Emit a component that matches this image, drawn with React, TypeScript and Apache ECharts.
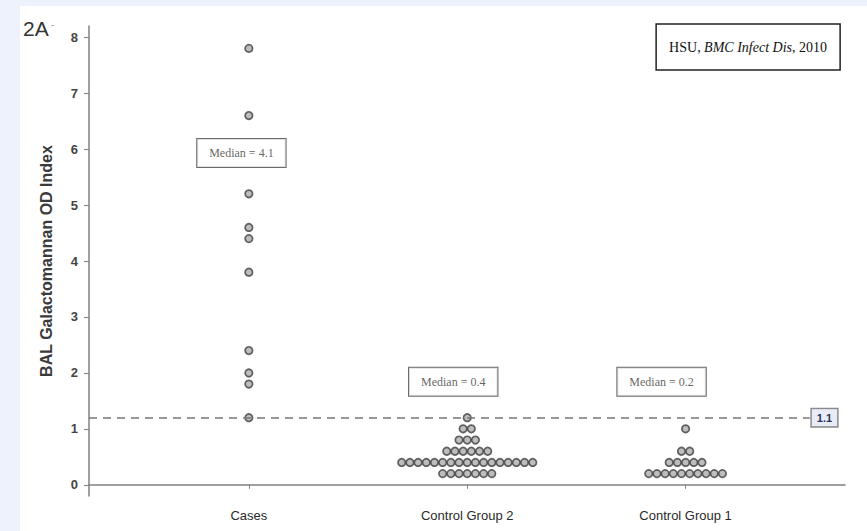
import React, { useEffect, useRef } from "react";
import * as echarts from "echarts";

const categories = ["Cases", "Control Group 2", "Control Group 1"];
const casesValues = [7.8, 6.6, 5.2, 4.6, 4.4, 3.8, 2.4, 2.0, 1.8, 1.2];
const control2Values = [
  1.2,
  1.0, 1.0,
  0.8, 0.8, 0.8,
  0.6, 0.6, 0.6, 0.6, 0.6, 0.6,
  0.4, 0.4, 0.4, 0.4, 0.4, 0.4, 0.4, 0.4, 0.4, 0.4, 0.4, 0.4, 0.4, 0.4, 0.4, 0.4, 0.4,
  0.2, 0.2, 0.2, 0.2, 0.2, 0.2, 0.2,
];
const control1Values = [
  1.0,
  0.6, 0.6,
  0.4, 0.4, 0.4, 0.4, 0.4,
  0.2, 0.2, 0.2, 0.2, 0.2, 0.2, 0.2, 0.2, 0.2, 0.2,
];
const medianTexts = ["Median = 4.1", "Median = 0.4", "Median = 0.2"];
const medianLabelX = [0.966, 1.936, 2.89];
const medianLabelY = [5.93, 1.84, 1.84];
const yTicks = [0, 1, 2, 3, 4, 5, 6, 7, 8];
const thresholdLevel = 1.2;
const thresholdLabel = "1.1";
const panelLabel = "2A";
const yAxisTitle = "BAL Galactomannan OD Index";
const citation = "HSU, {i|BMC Infect Dis}, 2010";

const X_MIN = 0.268;
const X_MAX = 3.73;
const STEP = 0.0375;

function swarm(values: number[], center: number, step: number) {
  const counts = new Map<number, number>();
  values.forEach((v) => counts.set(v, (counts.get(v) || 0) + 1));
  const out: number[][] = [];
  counts.forEach((n, v) => {
    for (let i = 0; i < n; i++) out.push([center + (i - (n - 1) / 2) * step, v]);
  });
  return out;
}

export default function App() {
  const ref = useRef<HTMLDivElement>(null);
  useEffect(() => {
    document.body.style.margin = "0";
    const chart = echarts.init(ref.current!, undefined, { renderer: "svg" });
    const dotStyle = {
      color: "#acacac",
      borderColor: "#3f3f3f",
      borderWidth: 1.7,
    };
    const groups = [casesValues, control2Values, control1Values];
    const dotSeries = groups.map((vals, gi) => ({
      type: "scatter",
      name: categories[gi],
      data: swarm(vals, gi + 1, STEP),
      symbol: "circle",
      symbolSize: 7.5,
      itemStyle: dotStyle,
      z: 3,
    }));
    chart.setOption({
      animation: false,
      title: {
        text: citation,
        right: 27,
        top: 18,
        padding: [16, 13],
        borderColor: "#222",
        borderWidth: 1.5,
        backgroundColor: "#fff",
        textStyle: {
          fontFamily: "Liberation Serif",
          fontSize: 14,
          fontWeight: "normal",
          color: "#111",
          rich: {
            i: { fontFamily: "Liberation Serif", fontSize: 14, fontStyle: "italic", color: "#111" },
          },
        },
      },
      graphic: [
        {
          type: "text",
          left: 3,
          top: 12,
          style: {
            text: panelLabel,
            fontFamily: "Liberation Sans",
            fontSize: 21,
            fill: "#333",
          },
        },
        {
          type: "text",
          left: 31,
          top: 13,
          style: {
            text: "-",
            fontFamily: "Liberation Sans",
            fontSize: 10,
            fill: "#999",
          },
        },
      ],
      grid: { left: 69, right: 22, top: 20, bottom: 35 },
      xAxis: {
        type: "value",
        min: X_MIN,
        max: X_MAX,
        splitLine: { show: false },
        axisLine: { lineStyle: { color: "#808080", width: 1.5 } },
        axisTick: { customValues: [1, 2, 3], length: 4, lineStyle: { color: "#808080" } },
        axisLabel: {
          customValues: [1, 2, 3],
          formatter: (v: number) => categories[Math.round(v) - 1] || "",
          fontFamily: "Liberation Sans",
          fontSize: 13,
          color: "#2a2a2a",
          margin: 13,
        },
      },
      yAxis: {
        type: "value",
        min: -0.2,
        max: 8.2,
        name: yAxisTitle,
        nameLocation: "middle",
        nameGap: 35,
        nameTextStyle: { fontFamily: "Liberation Sans", fontSize: 16, fontWeight: "bold", color: "#3a3a3a" },
        splitLine: { show: false },
        axisLine: { show: true, lineStyle: { color: "#808080", width: 1.5 } },
        axisTick: { show: true, customValues: yTicks, length: 5, lineStyle: { color: "#808080" } },
        axisLabel: {
          customValues: yTicks,
          fontFamily: "Liberation Sans",
          fontSize: 13,
          fontWeight: "bold",
          color: "#444",
          margin: 11,
        },
      },
      series: [
        ...dotSeries,
        {
          type: "scatter",
          name: "medians",
          symbolSize: 0,
          data: medianTexts.map((t, i) => ({ name: t, value: [medianLabelX[i], medianLabelY[i]] })),
          label: {
            show: true,
            position: "inside",
            formatter: (p: any) => p.name,
            fontFamily: "Liberation Serif",
            fontSize: 12,
            color: "#3a3a3a",
            backgroundColor: "#fff",
            borderColor: "#444",
            borderWidth: 1,
            padding: [8, 12],
          },
          markLine: {
            silent: true,
            symbol: "none",
            lineStyle: { type: [8, 6], color: "#777", width: 1.5 },
            label: {
              show: true,
              position: "end",
              distance: 2,
              formatter: thresholdLabel,
              fontFamily: "Liberation Sans",
              fontSize: 11,
              fontWeight: "bold",
              color: "#2c3357",
              backgroundColor: "#e9ecf7",
              borderColor: "#8a8a8a",
              borderWidth: 1.5,
              padding: [3, 5],
            },
            data: [
              [
                { coord: [X_MIN, thresholdLevel] },
                { coord: [3.569, thresholdLevel] },
              ],
            ],
          },
          z: 4,
        },
      ],
    });
    return () => chart.dispose();
  }, []);
  return (
    <div style={{ position: "fixed", left: 0, top: 0, width: 867, height: 531, background: "#edf2fd" }}>
      <div
        ref={ref}
        style={{ position: "absolute", left: 20, top: 6, width: 847, height: 525, background: "#fff" }}
      />
    </div>
  );
}
